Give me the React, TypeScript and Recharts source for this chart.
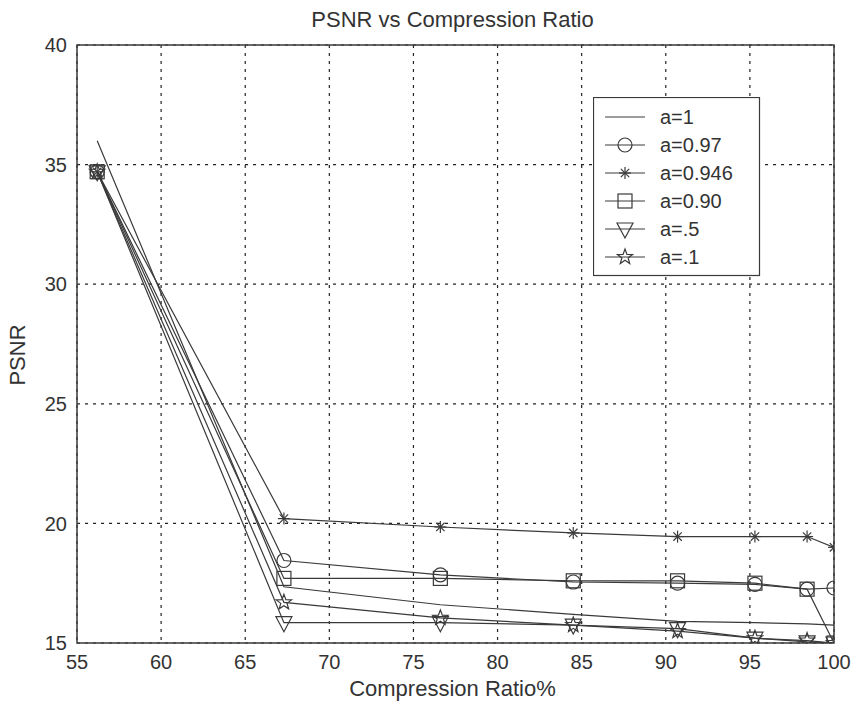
import React from 'react';
import { LineChart, Line, XAxis, YAxis, CartesianGrid, ReferenceArea, Legend } from 'recharts';

const compression = [56.2, 67.3, 76.6, 84.5, 90.7, 95.3, 98.4, 100];
const psnrA1 = [36.0, 17.35, 16.6, 16.2, 15.9, 15.85, 15.8, 15.75];
const psnrA097 = [34.7, 18.45, 17.85, 17.55, 17.5, 17.45, 17.25, 17.3];
const psnrA0946 = [34.7, 20.2, 19.85, 19.6, 19.45, 19.45, 19.45, 19.0];
const psnrA090 = [34.7, 17.7, 17.7, 17.6, 17.6, 17.5, 17.25, 15.0];
const psnrA05 = [34.7, 15.85, 15.85, 15.75, 15.6, 15.2, 15.05, 15.0];
const psnrA01 = [34.7, 16.7, 16.05, 15.75, 15.5, 15.2, 15.1, 15.0];

const xTicks = [55, 60, 65, 70, 75, 80, 85, 90, 95, 100];
const yTicks = [15, 20, 25, 30, 35, 40];

const seriesKeys = ['a1', 'a097', 'a0946', 'a090', 'a05', 'a01'];
const seriesNames = ['a=1', 'a=0.97', 'a=0.946', 'a=0.90', 'a=.5', 'a=.1'];
const seriesMarkers = ['none', 'circle', 'asterisk', 'square', 'triangle', 'pentagram'];
const seriesValues = [psnrA1, psnrA097, psnrA0946, psnrA090, psnrA05, psnrA01];

const data = compression.map((x, i) => {
  const row: Record<string, number> = { x };
  seriesKeys.forEach((k, j) => {
    row[k] = seriesValues[j][i];
  });
  return row;
});

const INK = '#3a3a3a';
const FONT = '"Liberation Sans", Arial, sans-serif';

function Marker({ type, cx, cy }: { type: string; cx: number; cy: number }) {
  if (cx == null || cy == null) return null;
  const common = { fill: 'none', stroke: INK, strokeWidth: 1.2 };
  switch (type) {
    case 'circle':
      return <circle cx={cx} cy={cy} r={7} {...common} />;
    case 'square':
      return <rect x={cx - 7} y={cy - 7} width={14} height={14} {...common} />;
    case 'triangle':
      return <polygon points={`${cx - 8},${cy - 6} ${cx + 8},${cy - 6} ${cx},${cy + 9}`} {...common} />;
    case 'asterisk': {
      const r = 6;
      const d = r * 0.7;
      return (
        <g {...common}>
          <line x1={cx - r} y1={cy} x2={cx + r} y2={cy} />
          <line x1={cx} y1={cy - r} x2={cx} y2={cy + r} />
          <line x1={cx - d} y1={cy - d} x2={cx + d} y2={cy + d} />
          <line x1={cx - d} y1={cy + d} x2={cx + d} y2={cy - d} />
        </g>
      );
    }
    case 'pentagram': {
      const R = 8;
      const r = 3.3;
      const pts: string[] = [];
      for (let i = 0; i < 10; i++) {
        const rad = i % 2 === 0 ? R : r;
        const ang = -Math.PI / 2 + (i * Math.PI) / 5;
        pts.push(`${cx + rad * Math.cos(ang)},${cy + rad * Math.sin(ang)}`);
      }
      return <polygon points={pts.join(' ')} {...common} />;
    }
    default:
      return null;
  }
}

function LegendBox() {
  return (
    <svg width={168} height={180} style={{ display: 'block' }}>
      <rect x={0.5} y={0.5} width={166} height={178} fill="#fff" stroke={INK} strokeWidth={1.2} />
      {seriesNames.map((name, i) => {
        const y = 20 + i * 28;
        return (
          <g key={name}>
            <line x1={12} y1={y} x2={52} y2={y} stroke={INK} strokeWidth={1.2} />
            <Marker type={seriesMarkers[i]} cx={32} cy={y} />
            <text x={67} y={y} dy="0.36em" fontSize={20} fill="#333" fontFamily={FONT}>
              {name}
            </text>
          </g>
        );
      })}
    </svg>
  );
}

export default function App() {
  return (
    <div style={{ position: 'absolute', left: 0, top: 0, width: 855, height: 708, background: '#fff', fontFamily: FONT }}>
      <div style={{ position: 'absolute', left: 0, width: 905, top: 7, textAlign: 'center', fontSize: 22, color: '#333' }}>
        PSNR vs Compression Ratio
      </div>
      <div style={{ position: 'absolute', left: 0, width: 905, top: 676, textAlign: 'center', fontSize: 22, color: '#333' }}>
        Compression Ratio%
      </div>
      <div
        style={{
          position: 'absolute',
          left: 18,
          top: 355,
          transform: 'translate(-50%, -50%) rotate(-90deg)',
          fontSize: 22,
          color: '#333',
          whiteSpace: 'nowrap',
        }}
      >
        PSNR
      </div>
      <LineChart width={855} height={708} data={data} margin={{ top: 45, right: 21, bottom: 15, left: 17 }}>
        <CartesianGrid stroke="#222" strokeDasharray="3 5" strokeWidth={1.2} />
        <XAxis
          dataKey="x"
          type="number"
          domain={[55, 100]}
          ticks={xTicks}
          interval={0}
          height={50}
          tickSize={0}
          tickMargin={12}
          axisLine={false}
          tick={{ fontSize: 20, fill: '#333', fontFamily: FONT }}
          allowDataOverflow
        />
        <YAxis
          type="number"
          domain={[15, 40]}
          ticks={yTicks}
          interval={0}
          width={60}
          tickSize={0}
          tickMargin={10}
          axisLine={false}
          tick={{ fontSize: 20, fill: '#333', fontFamily: FONT }}
          allowDataOverflow
        />
        <ReferenceArea x1={55} x2={100} y1={15} y2={40} fill="none" stroke={INK} strokeWidth={1.5} fillOpacity={0} />
        {seriesKeys.map((k, i) => (
          <Line
            key={k}
            dataKey={k}
            name={seriesNames[i]}
            type="linear"
            stroke={INK}
            strokeWidth={1.2}
            isAnimationActive={false}
            dot={
              seriesMarkers[i] === 'none'
                ? false
                : (p: any) => <Marker key={`${k}-${p.index}`} type={seriesMarkers[i]} cx={p.cx} cy={p.cy} />
            }
            activeDot={false}
          />
        ))}
        <Legend
          layout="vertical"
          align="center"
          verticalAlign="middle"
          content={() => <LegendBox />}
          wrapperStyle={{ position: 'absolute', left: 593, top: 97, width: 168, height: 180 }}
        />
      </LineChart>
    </div>
  );
}
